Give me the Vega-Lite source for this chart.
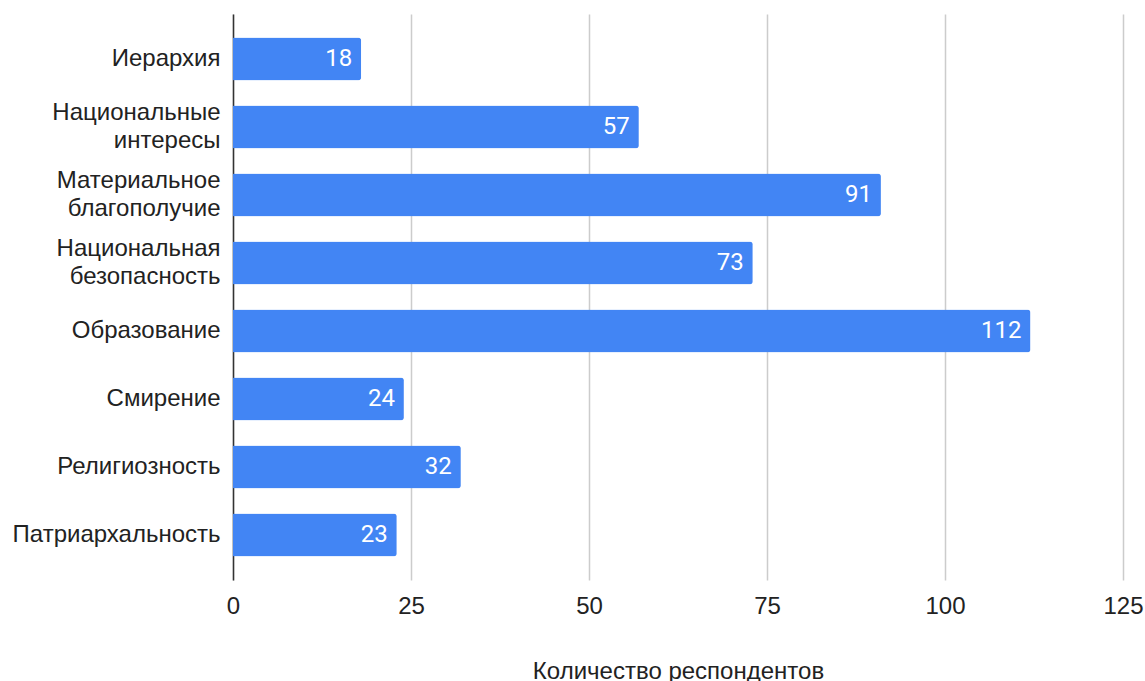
{
  "$schema": "https://vega.github.io/schema/vega-lite/v6.json",
  "autosize": "none",
  "width": 890,
  "height": 566,
  "padding": {"left": 233, "top": 14, "right": 22, "bottom": 101},
  "background": "white",
  "config": {"view": {"stroke": null}, "font": "Liberation Sans"},
  "data": {"values": [
    {"category": "Иерархия", "count": 18},
    {"category": "Национальные интересы", "count": 57},
    {"category": "Материальное благополучие", "count": 91},
    {"category": "Национальная безопасность", "count": 73},
    {"category": "Образование", "count": 112},
    {"category": "Смирение", "count": 24},
    {"category": "Религиозность", "count": 32},
    {"category": "Патриархальность", "count": 23}
  ]},
  "encoding": {
    "y": {
      "field": "category", "type": "nominal", "sort": null,
      "scale": {"paddingInner": 0.37, "paddingOuter": 0.347},
      "axis": {
        "title": null, "ticks": false, "grid": false,
        "domainColor": "#333333", "domainWidth": 1.5,
        "labelFont": "Liberation Sans", "labelFontSize": 24, "labelColor": "#222222",
        "labelPadding": 13, "labelLineHeight": 28, "labelLimit": 300,
        "labelOffset": {"condition": {"test": "indexof(datum.value, ' ') >= 0", "value": -14}, "value": 0},
        "labelExpr": "split(datum.label, ' ')"
      }
    },
    "x": {
      "field": "count", "type": "quantitative",
      "scale": {"domain": [0, 125], "nice": false},
      "axis": {
        "title": "Количество респондентов",
        "values": [0, 25, 50, 75, 100, 125],
        "domain": false, "ticks": false,
        "gridColor": "#cccccc", "gridWidth": 1.5,
        "labelFont": "Liberation Sans", "labelFontSize": 24, "labelColor": "#222222",
        "labelPadding": 14, "labelFlush": false,
        "titleFont": "Liberation Sans", "titleFontSize": 24, "titleFontWeight": "normal",
        "titleColor": "#222222", "titlePadding": 41
      }
    }
  },
  "layer": [
    {"mark": {"type": "bar", "color": "#4285F4", "cornerRadiusEnd": 3}},
    {
      "mark": {"type": "text", "align": "right", "baseline": "middle", "dx": -9, "color": "white", "font": "Roboto", "fontSize": 24},
      "encoding": {"text": {"field": "count", "type": "quantitative"}}
    }
  ]
}
